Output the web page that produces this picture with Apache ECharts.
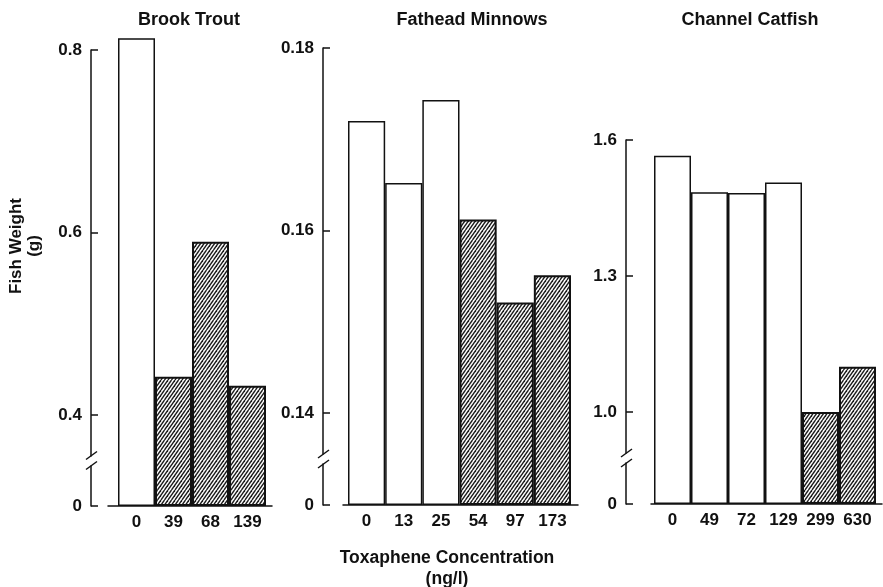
<!DOCTYPE html>
<html>
<head>
<meta charset="utf-8">
<script src="https://cdn.jsdelivr.net/npm/echarts@6/dist/echarts.min.js"></script>
<style>
  html, body { margin: 0; padding: 0; background: #fff; }
  #chart { width: 883px; height: 587px; }
</style>
</head>
<body>
<div id="chart"></div>
<script>
// Final fish weight (g) after toxaphene exposure, by species.
const troutConc = ['0', '39', '68', '139'];
const troutWeight = [0.813, 0.442, 0.590, 0.432];
const troutExposed = [false, true, true, true];
const troutTicks = [0, 0.4, 0.6, 0.8];
const troutTickLabels = ['0', '0.4', '0.6', '0.8'];

const minnowConc = ['0', '13', '25', '54', '97', '173'];
const minnowWeight = [0.1720, 0.1652, 0.1743, 0.1612, 0.1521, 0.1551];
const minnowExposed = [false, false, false, true, true, true];
const minnowTicks = [0, 0.14, 0.16, 0.18];
const minnowTickLabels = ['0', '0.14', '0.16', '0.18'];

const catfishConc = ['0', '49', '72', '129', '299', '630'];
const catfishWeight = [1.565, 1.485, 1.483, 1.506, 1.0, 1.10];
const catfishExposed = [false, false, false, false, true, true];
const catfishTicks = [0, 1.0, 1.3, 1.6];
const catfishTickLabels = ['0', '1.0', '1.3', '1.6'];

const speciesNames = ['Brook Trout', 'Fathead Minnows', 'Channel Catfish'];
const yAxisTitle = 'Fish Weight\n(g)';
const xAxisTitle = 'Toxaphene Concentration\n(ng/l)';

const INK = '#111';
const FONT = '"Liberation Sans", Arial, Helvetica, sans-serif';
const BREAK_GAP_PX = 10;

// Panel frames (pixels): bar span, y-axis line, top tick, break, baseline, x-axis line span.
const panels = [
  { name: speciesNames[0], conc: troutConc, weight: troutWeight, exposed: troutExposed,
    ticks: troutTicks, tickLabels: troutTickLabels,
    barLeft: 118, barRight: 266, axisX: 91, top: 50, breakY: 415, bottom: 506,
    lineLeft: 108, lineRight: 272, titleX: 189 },
  { name: speciesNames[1], conc: minnowConc, weight: minnowWeight, exposed: minnowExposed,
    ticks: minnowTicks, tickLabels: minnowTickLabels,
    barLeft: 348, barRight: 571, axisX: 323, top: 48, breakY: 413, bottom: 505,
    lineLeft: 343, lineRight: 578, titleX: 472 },
  { name: speciesNames[2], conc: catfishConc, weight: catfishWeight, exposed: catfishExposed,
    ticks: catfishTicks, tickLabels: catfishTickLabels,
    barLeft: 654, barRight: 876, axisX: 626, top: 140, breakY: 412, bottom: 504,
    lineLeft: 651, lineRight: 882, titleX: 750 }
];

// Diagonal hatch tile for the exposed groups.
function hatchTile() {
  const c = document.createElement('canvas');
  c.width = 7; c.height = 10;
  const g = c.getContext('2d');
  g.fillStyle = '#fff';
  g.fillRect(0, 0, 7, 10);
  g.strokeStyle = '#1a1a1a';
  g.lineWidth = 1.35;
  for (let k = -2; k <= 2; k++) {
    const x0 = k * 3.5;
    g.beginPath();
    g.moveTo(x0, 10);
    g.lineTo(x0 + 7, 0);
    g.stroke();
  }
  return c;
}
const hatch = { image: hatchTile(), repeat: 'repeat' };

const grid = [], xAxis = [], yAxis = [], series = [], graphic = [];

panels.forEach((p, i) => {
  const low = p.ticks[1];
  const high = p.ticks[p.ticks.length - 1];
  const pxPerUnit = (p.breakY - p.top) / (high - low);
  // the squeezed 0..low stretch: a short gap in the middle, same scale either side of it
  const sidePx = (p.bottom - p.breakY - BREAK_GAP_PX) / 2;
  const brkStart = sidePx / pxPerUnit;
  const brkEnd = low - sidePx / pxPerUnit;
  const brkGap = BREAK_GAP_PX / pxPerUnit;

  // plotting grid
  grid.push({ left: p.barLeft, width: p.barRight - p.barLeft, top: p.top, height: p.bottom - p.top });
  xAxis.push({
    type: 'category', gridIndex: 2 * i, data: p.conc,
    axisLine: { show: false }, axisTick: { show: false },
    axisLabel: { margin: 8, color: INK, fontSize: 17, fontWeight: 'bold', fontFamily: FONT }
  });
  yAxis.push({
    type: 'value', gridIndex: 2 * i, min: 0, max: high,
    offset: p.barLeft - p.axisX,
    breaks: [{ start: brkStart, end: brkEnd, gap: brkGap }],
    breakArea: { show: false },
    splitLine: { show: false },
    axisLine: { show: true, lineStyle: { color: INK, width: 1.5 } },
    axisTick: { show: true, inside: true, length: 7, customValues: p.ticks,
                lineStyle: { color: INK, width: 1.5 } },
    axisLabel: {
      customValues: p.ticks, margin: 9, color: INK, fontSize: 17, fontWeight: 'bold', fontFamily: FONT,
      formatter: v => {
        const k = p.ticks.findIndex(t => Math.abs(t - v) < 1e-9);
        return k >= 0 ? p.tickLabels[k] : '';
      }
    }
  });
  series.push({
    type: 'bar', xAxisIndex: 2 * i, yAxisIndex: 2 * i, clip: false,
    barCategoryGap: 0, z: 3,
    data: p.weight.map((w, j) => ({
      value: w,
      itemStyle: p.exposed[j]
        ? { color: hatch, borderColor: INK, borderWidth: 2 }
        : { color: '#fff', borderColor: INK, borderWidth: 1.5 }
    }))
  });

  // baseline grid: carries the x-axis line a little past the bars
  grid.push({ left: p.lineLeft, width: p.lineRight - p.lineLeft, top: p.top, height: p.bottom - p.top });
  xAxis.push({
    type: 'value', gridIndex: 2 * i + 1, min: 0, max: 1,
    axisLine: { show: true, onZero: false, lineStyle: { color: INK, width: 1.5 } },
    axisTick: { show: false }, axisLabel: { show: false }, splitLine: { show: false }
  });
  yAxis.push({ type: 'value', gridIndex: 2 * i + 1, show: false, min: 0, max: 1 });

  // panel title
  graphic.push({
    type: 'text', x: p.titleX, y: 20, z: 100,
    style: { text: p.name, fill: INK, font: 'bold 18px ' + FONT, textAlign: 'center', textVerticalAlign: 'middle' }
  });

  // slash marks at the axis break
  const my = (p.bottom + p.breakY) / 2;
  const h = BREAK_GAP_PX / 2;
  graphic.push({
    type: 'line', z: 101,
    shape: { x1: p.axisX - 5, y1: my - h + 4, x2: p.axisX + 6, y2: my - h - 4 },
    style: { stroke: INK, lineWidth: 1.5 }
  });
  graphic.push({
    type: 'line', z: 101,
    shape: { x1: p.axisX - 5, y1: my + h + 4, x2: p.axisX + 6, y2: my + h - 4 },
    style: { stroke: INK, lineWidth: 1.5 }
  });
});

graphic.push({
  type: 'text', x: 25, y: 246, rotation: Math.PI / 2, z: 100,
  style: { text: yAxisTitle, fill: INK, font: 'bold 17px ' + FONT, textAlign: 'center',
           textVerticalAlign: 'middle', lineHeight: 18 }
});
graphic.push({
  type: 'text', x: 447, y: 569, z: 100,
  style: { text: xAxisTitle, fill: INK, font: 'bold 17.5px ' + FONT, textAlign: 'center',
           textVerticalAlign: 'middle', lineHeight: 21 }
});

const chart = echarts.init(document.getElementById('chart'), null, { renderer: 'canvas' });
chart.setOption({
  backgroundColor: '#fff',
  animation: false,
  grid, xAxis, yAxis, series, graphic
});
</script>
</body>
</html>
